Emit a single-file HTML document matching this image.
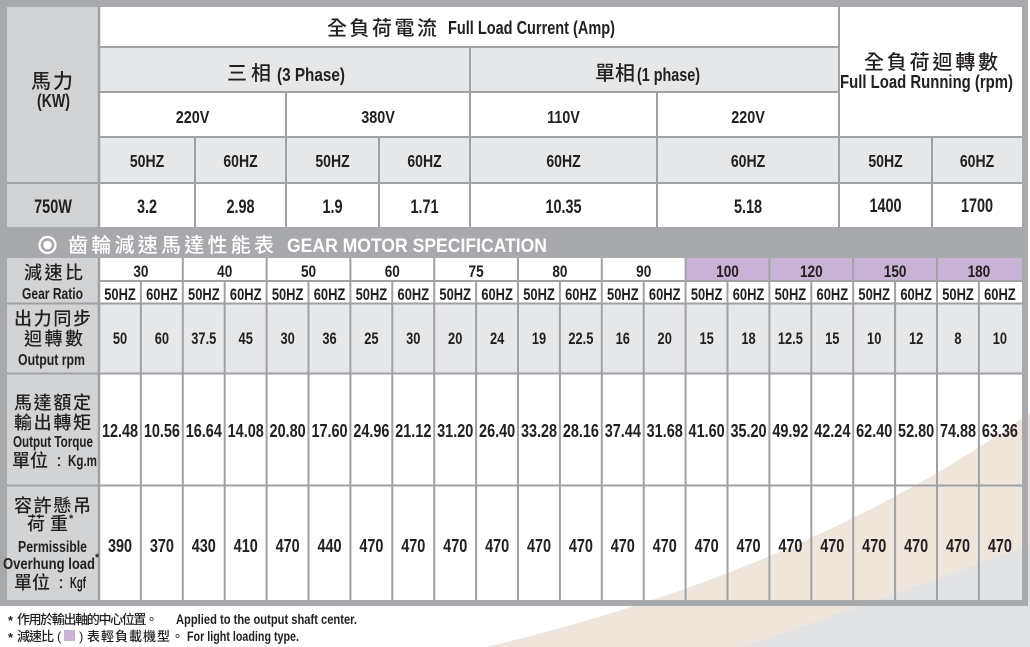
<!DOCTYPE html>
<html><head><meta charset="utf-8">
<style>
html,body{margin:0;padding:0;background:#fff;width:1030px;height:647px;overflow:hidden}
svg{display:block}
.l{font-family:"Liberation Sans",sans-serif;font-weight:bold;fill:#231f20}
.c{font-family:"Liberation Sans","Noto Sans CJK TC",sans-serif;fill:#231f20;font-weight:500}
.w{fill:#fff}
</style></head>
<body>
<svg width="1030" height="647" viewBox="0 0 1030 647" xmlns="http://www.w3.org/2000/svg">
<rect x="0" y="0" width="1030" height="647" fill="#fff"/>
<!-- swoosh -->
<path d="M486,647 Q805,572 1030,413 L1036,409 L1036,652 L480,652 Z" fill="#efe5db"/>
<path d="M742,647 Q880,600 1030,545 L1036,543 L1036,652 L735,652 Z" fill="#e1e2e4"/>

<!-- fills -->
<rect x="7" y="7" width="92" height="220" fill="#d1d3d4"/>
<rect x="99" y="47" width="740" height="45" fill="#e6e7e8"/>
<rect x="99" y="137" width="923" height="46" fill="#e6e7e8"/>
<rect x="7" y="258" width="92" height="342" fill="#d1d3d4"/>
<rect x="685.6" y="258" width="336.4" height="23" fill="#c8b3d6"/>
<rect x="99" y="303.5" width="923" height="70" fill="#e6e7e8"/>

<!-- frame -->
<rect x="0" y="0" width="1028" height="7" fill="#a7a9ac"/>
<rect x="0" y="0" width="7" height="606" fill="#a7a9ac"/>
<rect x="1022" y="0" width="6" height="606" fill="#a7a9ac"/>
<rect x="0" y="600" width="1028" height="6" fill="#a7a9ac"/>
<rect x="0" y="227" width="1028" height="31" fill="#a7a9ac"/>

<!-- grid lines -->
<g stroke="#9fa1a4" stroke-width="2" fill="none">
<line x1="99" y1="47" x2="839" y2="47"/>
<line x1="99" y1="92" x2="839" y2="92"/>
<line x1="99" y1="137" x2="1022" y2="137"/>
<line x1="7" y1="183" x2="1022" y2="183"/>
<line x1="99" y1="7" x2="99" y2="227" stroke-width="2.5"/>
<line x1="195" y1="137" x2="195" y2="227"/>
<line x1="286" y1="92" x2="286" y2="227"/>
<line x1="379" y1="137" x2="379" y2="227"/>
<line x1="470" y1="47" x2="470" y2="227"/>
<line x1="657" y1="92" x2="657" y2="227"/>
<line x1="839" y1="7" x2="839" y2="227"/>
<line x1="932" y1="137" x2="932" y2="227"/>

<line x1="99" y1="281" x2="1022" y2="281"/>
<line x1="7" y1="303.5" x2="1022" y2="303.5"/>
<line x1="7" y1="373.5" x2="1022" y2="373.5"/>
<line x1="7" y1="485.5" x2="1022" y2="485.5"/>
<line x1="99" y1="258" x2="99" y2="600" stroke-width="2.5"/>
<line x1="140.9" y1="281" x2="140.9" y2="600"/>
<line x1="182.8" y1="258" x2="182.8" y2="600"/>
<line x1="224.7" y1="281" x2="224.7" y2="600"/>
<line x1="266.6" y1="258" x2="266.6" y2="600"/>
<line x1="308.5" y1="281" x2="308.5" y2="600"/>
<line x1="350.4" y1="258" x2="350.4" y2="600"/>
<line x1="392.3" y1="281" x2="392.3" y2="600"/>
<line x1="434.2" y1="258" x2="434.2" y2="600"/>
<line x1="476.1" y1="281" x2="476.1" y2="600"/>
<line x1="518.0" y1="258" x2="518.0" y2="600"/>
<line x1="559.9" y1="281" x2="559.9" y2="600"/>
<line x1="601.8" y1="258" x2="601.8" y2="600"/>
<line x1="643.7" y1="281" x2="643.7" y2="600"/>
<line x1="685.6" y1="258" x2="685.6" y2="600"/>
<line x1="727.5" y1="281" x2="727.5" y2="600"/>
<line x1="769.4" y1="258" x2="769.4" y2="600"/>
<line x1="811.3" y1="281" x2="811.3" y2="600"/>
<line x1="853.2" y1="258" x2="853.2" y2="600"/>
<line x1="895.1" y1="281" x2="895.1" y2="600"/>
<line x1="937.0" y1="258" x2="937.0" y2="600"/>
<line x1="978.9" y1="281" x2="978.9" y2="600"/>
</g>

<!-- top header texts -->
<text class="c" x="327" y="35" font-size="20" textLength="110">全負荷電流</text>
<text class="l" x="448" y="34" font-size="18" textLength="167" lengthAdjust="spacingAndGlyphs">Full Load Current (Amp)</text>
<text class="c" x="227" y="80" font-size="20" textLength="44">三相</text>
<text class="l" x="277" y="81" font-size="18" textLength="68" lengthAdjust="spacingAndGlyphs">(3 Phase)</text>
<text class="c" x="595" y="80" font-size="20" textLength="40">單相</text>
<text class="l" x="637" y="81" font-size="18" textLength="63" lengthAdjust="spacingAndGlyphs">(1 phase)</text>
<text class="c" x="864" y="69" font-size="20" textLength="134">全負荷迴轉數</text>
<text class="l" x="840" y="88" font-size="18" textLength="173" lengthAdjust="spacingAndGlyphs">Full Load Running (rpm)</text>
<text class="c" x="31" y="88" font-size="20" textLength="42">馬力</text>
<text class="l" x="37" y="107" font-size="18" textLength="33" lengthAdjust="spacingAndGlyphs">(KW)</text>

<g class="l" font-size="18" text-anchor="middle">
<text transform="translate(192.5,123) scale(.8,1)">220V</text>
<text transform="translate(378,123) scale(.8,1)">380V</text>
<text transform="translate(563.5,123) scale(.8,1)">110V</text>
<text transform="translate(748,123) scale(.8,1)">220V</text>
<text transform="translate(147,167) scale(.78,1)">50HZ</text>
<text transform="translate(240.5,167) scale(.78,1)">60HZ</text>
<text transform="translate(332.5,167) scale(.78,1)">50HZ</text>
<text transform="translate(424.5,167) scale(.78,1)">60HZ</text>
<text transform="translate(563.5,167) scale(.78,1)">60HZ</text>
<text transform="translate(748,167) scale(.78,1)">60HZ</text>
<text transform="translate(885.5,167) scale(.78,1)">50HZ</text>
<text transform="translate(977,167) scale(.78,1)">60HZ</text>
</g>
<g class="l" font-size="19" text-anchor="middle">
<text transform="translate(53,213) scale(.76,1)">750W</text>
<text transform="translate(147,213) scale(.76,1)">3.2</text>
<text transform="translate(240.5,213) scale(.76,1)">2.98</text>
<text transform="translate(332.5,213) scale(.76,1)">1.9</text>
<text transform="translate(424.5,213) scale(.76,1)">1.71</text>
<text transform="translate(563.5,213) scale(.76,1)">10.35</text>
<text transform="translate(748,213) scale(.76,1)">5.18</text>
<text transform="translate(885.5,212) scale(.76,1)">1400</text>
<text transform="translate(977,212) scale(.76,1)">1700</text>
</g>

<!-- title band -->
<circle cx="47.5" cy="245" r="8" fill="none" stroke="#fff" stroke-width="2.2"/>
<circle cx="47.5" cy="245" r="4.3" fill="#fff"/>
<text class="c w" x="68" y="252" font-size="20" font-weight="bold" textLength="206">齒輪減速馬達性能表</text>
<text class="l w" x="287" y="252" font-size="19" textLength="260" lengthAdjust="spacingAndGlyphs">GEAR MOTOR SPECIFICATION</text>

<!-- gear left headers -->
<text class="c" x="24" y="279" font-size="18" textLength="59">減速比</text>
<text class="l" x="22" y="299" font-size="16" textLength="61" lengthAdjust="spacingAndGlyphs">Gear Ratio</text>
<text class="c" x="14" y="325" font-size="18" textLength="77">出力同步</text>
<text class="c" x="24" y="345" font-size="18" textLength="59">迴轉數</text>
<text class="l" x="18" y="365" font-size="16" textLength="67" lengthAdjust="spacingAndGlyphs">Output rpm</text>
<text class="c" x="14" y="409" font-size="18" textLength="77">馬達額定</text>
<text class="c" x="14" y="429" font-size="18" textLength="77">輸出轉矩</text>
<text class="l" x="13" y="447" font-size="16" textLength="80" lengthAdjust="spacingAndGlyphs">Output Torque</text>
<text class="c" x="12" y="467" font-size="18" textLength="36">單位</text>
<text class="c" x="52" y="467" font-size="14">：</text>
<text class="l" x="68" y="466" font-size="16" textLength="29" lengthAdjust="spacingAndGlyphs">Kg.m</text>
<text class="c" x="14" y="512" font-size="18" textLength="77">容許懸吊</text>
<text class="c" x="27" y="530" font-size="18" textLength="41">荷重</text>
<text class="l" x="69" y="522" font-size="11">*</text>
<text class="l" x="18" y="552" font-size="16" textLength="69" lengthAdjust="spacingAndGlyphs">Permissible</text>
<text class="l" x="3" y="569" font-size="16" textLength="92" lengthAdjust="spacingAndGlyphs">Overhung load</text>
<text class="l" x="95" y="561" font-size="11">*</text>
<text class="c" x="14" y="589" font-size="18" textLength="36">單位</text>
<text class="c" x="54" y="589" font-size="14">：</text>
<text class="l" x="70" y="588" font-size="16" textLength="16" lengthAdjust="spacingAndGlyphs">Kgf</text>

<!-- ratio row -->
<g class="l" font-size="17" text-anchor="middle">
<text transform="translate(140.9,277) scale(.8,1)">30</text>
<text transform="translate(224.7,277) scale(.8,1)">40</text>
<text transform="translate(308.5,277) scale(.8,1)">50</text>
<text transform="translate(392.3,277) scale(.8,1)">60</text>
<text transform="translate(476.1,277) scale(.8,1)">75</text>
<text transform="translate(559.9,277) scale(.8,1)">80</text>
<text transform="translate(643.7,277) scale(.8,1)">90</text>
<text transform="translate(727.5,277) scale(.8,1)">100</text>
<text transform="translate(811.3,277) scale(.8,1)">120</text>
<text transform="translate(895.1,277) scale(.8,1)">150</text>
<text transform="translate(978.9,277) scale(.8,1)">180</text>
</g>
<!-- HZ row -->
<g class="l" font-size="17" text-anchor="middle">
<text transform="translate(120.0,300) scale(.76,1)">50HZ</text>
<text transform="translate(161.9,300) scale(.76,1)">60HZ</text>
<text transform="translate(203.8,300) scale(.76,1)">50HZ</text>
<text transform="translate(245.7,300) scale(.76,1)">60HZ</text>
<text transform="translate(287.6,300) scale(.76,1)">50HZ</text>
<text transform="translate(329.5,300) scale(.76,1)">60HZ</text>
<text transform="translate(371.4,300) scale(.76,1)">50HZ</text>
<text transform="translate(413.3,300) scale(.76,1)">60HZ</text>
<text transform="translate(455.2,300) scale(.76,1)">50HZ</text>
<text transform="translate(497.1,300) scale(.76,1)">60HZ</text>
<text transform="translate(539.0,300) scale(.76,1)">50HZ</text>
<text transform="translate(580.9,300) scale(.76,1)">60HZ</text>
<text transform="translate(622.8,300) scale(.76,1)">50HZ</text>
<text transform="translate(664.7,300) scale(.76,1)">60HZ</text>
<text transform="translate(706.6,300) scale(.76,1)">50HZ</text>
<text transform="translate(748.5,300) scale(.76,1)">60HZ</text>
<text transform="translate(790.4,300) scale(.76,1)">50HZ</text>
<text transform="translate(832.3,300) scale(.76,1)">60HZ</text>
<text transform="translate(874.2,300) scale(.76,1)">50HZ</text>
<text transform="translate(916.1,300) scale(.76,1)">60HZ</text>
<text transform="translate(958.0,300) scale(.76,1)">50HZ</text>
<text transform="translate(999.9,300) scale(.76,1)">60HZ</text>
</g>
<!-- rpm row -->
<g class="l" font-size="16.5" text-anchor="middle">
<text transform="translate(120.0,344) scale(.78,1)">50</text>
<text transform="translate(161.9,344) scale(.78,1)">60</text>
<text transform="translate(203.8,344) scale(.78,1)">37.5</text>
<text transform="translate(245.7,344) scale(.78,1)">45</text>
<text transform="translate(287.6,344) scale(.78,1)">30</text>
<text transform="translate(329.5,344) scale(.78,1)">36</text>
<text transform="translate(371.4,344) scale(.78,1)">25</text>
<text transform="translate(413.3,344) scale(.78,1)">30</text>
<text transform="translate(455.2,344) scale(.78,1)">20</text>
<text transform="translate(497.1,344) scale(.78,1)">24</text>
<text transform="translate(539.0,344) scale(.78,1)">19</text>
<text transform="translate(580.9,344) scale(.78,1)">22.5</text>
<text transform="translate(622.8,344) scale(.78,1)">16</text>
<text transform="translate(664.7,344) scale(.78,1)">20</text>
<text transform="translate(706.6,344) scale(.78,1)">15</text>
<text transform="translate(748.5,344) scale(.78,1)">18</text>
<text transform="translate(790.4,344) scale(.78,1)">12.5</text>
<text transform="translate(832.3,344) scale(.78,1)">15</text>
<text transform="translate(874.2,344) scale(.78,1)">10</text>
<text transform="translate(916.1,344) scale(.78,1)">12</text>
<text transform="translate(958.0,344) scale(.78,1)">8</text>
<text transform="translate(999.9,344) scale(.78,1)">10</text>
</g>
<!-- torque row -->
<g class="l" font-size="18.5" text-anchor="middle">
<text transform="translate(120.0,437) scale(.78,1)">12.48</text>
<text transform="translate(161.9,437) scale(.78,1)">10.56</text>
<text transform="translate(203.8,437) scale(.78,1)">16.64</text>
<text transform="translate(245.7,437) scale(.78,1)">14.08</text>
<text transform="translate(287.6,437) scale(.78,1)">20.80</text>
<text transform="translate(329.5,437) scale(.78,1)">17.60</text>
<text transform="translate(371.4,437) scale(.78,1)">24.96</text>
<text transform="translate(413.3,437) scale(.78,1)">21.12</text>
<text transform="translate(455.2,437) scale(.78,1)">31.20</text>
<text transform="translate(497.1,437) scale(.78,1)">26.40</text>
<text transform="translate(539.0,437) scale(.78,1)">33.28</text>
<text transform="translate(580.9,437) scale(.78,1)">28.16</text>
<text transform="translate(622.8,437) scale(.78,1)">37.44</text>
<text transform="translate(664.7,437) scale(.78,1)">31.68</text>
<text transform="translate(706.6,437) scale(.78,1)">41.60</text>
<text transform="translate(748.5,437) scale(.78,1)">35.20</text>
<text transform="translate(790.4,437) scale(.78,1)">49.92</text>
<text transform="translate(832.3,437) scale(.78,1)">42.24</text>
<text transform="translate(874.2,437) scale(.78,1)">62.40</text>
<text transform="translate(916.1,437) scale(.78,1)">52.80</text>
<text transform="translate(958.0,437) scale(.78,1)">74.88</text>
<text transform="translate(999.9,437) scale(.78,1)">63.36</text>
</g>
<!-- load row -->
<g class="l" font-size="18.5" text-anchor="middle">
<text transform="translate(120.0,552) scale(.78,1)">390</text>
<text transform="translate(161.9,552) scale(.78,1)">370</text>
<text transform="translate(203.8,552) scale(.78,1)">430</text>
<text transform="translate(245.7,552) scale(.78,1)">410</text>
<text transform="translate(287.6,552) scale(.78,1)">470</text>
<text transform="translate(329.5,552) scale(.78,1)">440</text>
<text transform="translate(371.4,552) scale(.78,1)">470</text>
<text transform="translate(413.3,552) scale(.78,1)">470</text>
<text transform="translate(455.2,552) scale(.78,1)">470</text>
<text transform="translate(497.1,552) scale(.78,1)">470</text>
<text transform="translate(539.0,552) scale(.78,1)">470</text>
<text transform="translate(580.9,552) scale(.78,1)">470</text>
<text transform="translate(622.8,552) scale(.78,1)">470</text>
<text transform="translate(664.7,552) scale(.78,1)">470</text>
<text transform="translate(706.6,552) scale(.78,1)">470</text>
<text transform="translate(748.5,552) scale(.78,1)">470</text>
<text transform="translate(790.4,552) scale(.78,1)">470</text>
<text transform="translate(832.3,552) scale(.78,1)">470</text>
<text transform="translate(874.2,552) scale(.78,1)">470</text>
<text transform="translate(916.1,552) scale(.78,1)">470</text>
<text transform="translate(958.0,552) scale(.78,1)">470</text>
<text transform="translate(999.9,552) scale(.78,1)">470</text>
</g>

<!-- footer -->
<text class="l" x="8" y="625" font-size="13">*</text>
<text class="c" x="17" y="624" font-size="13" textLength="141" fill="#333">作用於輸出軸的中心位置。</text>
<text class="l" x="176" y="624" font-size="14" textLength="181" lengthAdjust="spacingAndGlyphs">Applied to the output shaft center.</text>
<text class="l" x="8" y="642" font-size="13">*</text>
<text class="c" x="17" y="641" font-size="13" textLength="37" fill="#333">減速比</text>
<text class="c" x="57" y="641" font-size="13">(</text>
<rect x="64" y="630" width="11" height="11" fill="#c8b3d6"/>
<text class="c" x="79" y="641" font-size="13">)</text>
<text class="c" x="87" y="641" font-size="13" textLength="97" fill="#333">表輕負載機型。</text>
<text class="l" x="187" y="641" font-size="14" textLength="112" lengthAdjust="spacingAndGlyphs">For light loading type.</text>
</svg>
</body></html>
